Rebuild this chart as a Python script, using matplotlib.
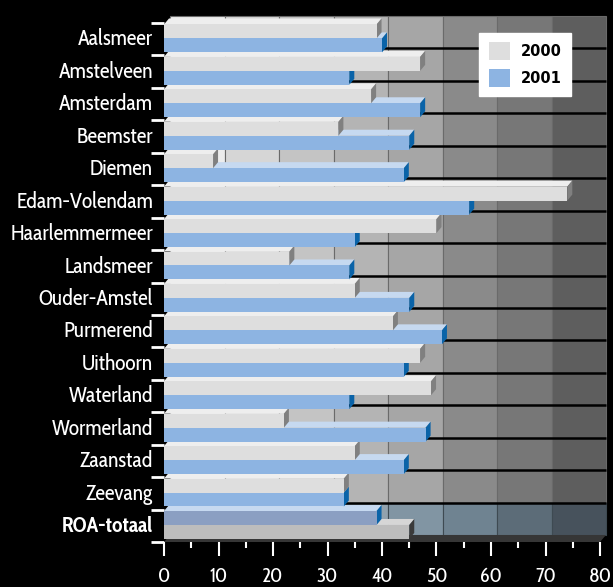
import numpy as np
import matplotlib
matplotlib.use("Agg")
import matplotlib.pyplot as plt
from matplotlib.patches import Polygon, Rectangle, Patch

# data
gemeenten = ["Aalsmeer", "Amstelveen", "Amsterdam", "Beemster", "Diemen",
             "Edam-Volendam", "Haarlemmermeer", "Landsmeer", "Ouder-Amstel",
             "Purmerend", "Uithoorn", "Waterland", "Wormerland", "Zaanstad",
             "Zeevang", "ROA-totaal"]
waarden_2000 = [39, 47, 38, 32, 9, 74, 50, 23, 35, 42, 47, 49, 22, 35, 33, 45]
waarden_2001 = [40, 34, 47, 45, 44, 56, 35, 34, 45, 51, 44, 34, 48, 44, 33, 39]
x_ticks = [0, 10, 20, 30, 40, 50, 60, 70, 80]

plt.rcParams["font.family"] = ["Cabin Condensed", "Archivo Narrow",
                               "Liberation Sans Narrow", "DejaVu Sans"]

W, H = 613, 587
fig = plt.figure(figsize=(W / 100, H / 100), dpi=100, facecolor="black")
ax = fig.add_axes([164 / W, (H - 542) / H, 436 / W, 519 / H])
ax.set_facecolor("black")
ax.set_xlim(0, 80)
ax.set_ylim(15.5, -0.5)
for s in ax.spines.values():
    s.set_visible(False)

n = len(gemeenten)
px_x = 80 / 436          # data units per pixel
px_y = 16 / 519
bdx, bdy = 5 * px_x, 6 * px_y    # bar depth
wdx, wdy = 6 * px_x, 7 * px_y    # wall offset

# back wall with grey bands
band_cols = ["#ececec", "#d6d6d6", "#c4c4c4", "#b4b4b4",
             "#a6a6a6", "#8a8a8a", "#777777", "#5e5e5e"]
roa_cols = ["#c9d3da", "#b3c0c8", "#a2b0ba", "#92a2ad",
            "#8195a3", "#6f8391", "#5c6c78", "#47525c"]
for k in range(8):
    ax.add_patch(Rectangle((x_ticks[k] + wdx, -0.5 - wdy), 10, n - 1,
                           facecolor=band_cols[k], edgecolor="#6a6a6a",
                           lw=0.8, zorder=1, clip_on=False))
    ax.add_patch(Rectangle((x_ticks[k] + wdx, n - 1.5 - wdy), 10, 1,
                           facecolor=roa_cols[k], edgecolor="#3e4a52",
                           lw=0.8, zorder=1, clip_on=False))

# black horizontal lines on the wall
for i in range(n - 1):
    ax.plot([wdx, 80 + wdx], [i + 0.5 - wdy, i + 0.5 - wdy], color="black",
            lw=1.8, zorder=2, clip_on=False, solid_capstyle="butt")

# floor
ax.add_patch(Polygon([(0, n - 0.5), (80, n - 0.5), (80 + wdx, n - 0.5 - wdy),
                      (wdx, n - 0.5 - wdy)], closed=True, facecolor="#363636",
                     edgecolor="none", zorder=2, clip_on=False))


def bar3d(y, h, v, front, top, side, z):
    y0, y1 = y - h / 2, y + h / 2
    ax.add_patch(Polygon([(0, y0), (v, y0), (v + bdx, y0 - bdy), (bdx, y0 - bdy)],
                         closed=True, facecolor=top, edgecolor="none",
                         zorder=z, clip_on=False))
    ax.add_patch(Polygon([(v, y0), (v + bdx, y0 - bdy), (v + bdx, y1 - bdy), (v, y1)],
                         closed=True, facecolor=side, edgecolor="none",
                         zorder=z, clip_on=False))
    ax.add_patch(Rectangle((0, y0), v, h, facecolor=front, edgecolor="none",
                           zorder=z + 0.1, clip_on=False))


h = 0.43
z = 3
for i in range(n - 1, -1, -1):
    if gemeenten[i] == "ROA-totaal":
        bar3d(i + 0.19, h, waarden_2000[i], "#bdbdbd", "#d6d6d6", "#3a3a3a", z)
        bar3d(i - 0.24, h, waarden_2001[i], "#8b9fc2", "#c6d9f0", "#0a63a8", z + 1)
    else:
        bar3d(i + 0.19, h, waarden_2001[i], "#8db4e2", "#c6d9f0", "#0a63a8", z)
        bar3d(i - 0.24, h, waarden_2000[i], "#dedede", "#eeeeee", "#808080", z + 1)
    z += 2

# y axis: tick marks at boundaries, labels at centres
ax.set_yticks(np.arange(-0.5, n, 1))
ax.set_yticklabels([])
ax.tick_params(axis="y", which="major", length=9.5, width=2, color="white")
ax.yaxis.get_major_ticks()[-1].tick1line.set_color("#9a9a9a")
ax.set_yticks(np.arange(n) - 0.07, minor=True)
ax.set_yticklabels(gemeenten, minor=True, color="white", fontsize=15.5)
ax.tick_params(axis="y", which="minor", length=0, pad=8)
ax.get_yticklabels(minor=True)[-1].set_fontweight("bold")

# x axis
ax.set_xticks(x_ticks)
ax.set_xticklabels([str(t) for t in x_ticks], color="white", fontsize=14.5)
ax.set_xticks(np.arange(5, 80, 10), minor=True)
ax.tick_params(axis="x", which="major", length=10, width=1.5, color="white", pad=8)
ax.tick_params(axis="x", which="minor", length=4.5, width=1.5, color="white")

# legend
handles = [Patch(facecolor="#dedede", edgecolor="none", label="2000"),
           Patch(facecolor="#8db4e2", edgecolor="none", label="2001")]
leg = fig.legend(handles=handles, loc="upper right",
                 bbox_to_anchor=(571 / W, 1 - 33 / H), borderaxespad=0,
                 frameon=True, fancybox=False, framealpha=1, facecolor="white",
                 edgecolor="white", handlelength=1.5, handleheight=1.5,
                 labelspacing=0.6, handletextpad=0.7, borderpad=0.65,
                 prop={"family": "DejaVu Sans", "weight": "bold", "size": 10.5})

fig.savefig("out.png", dpi=100, facecolor="black")
